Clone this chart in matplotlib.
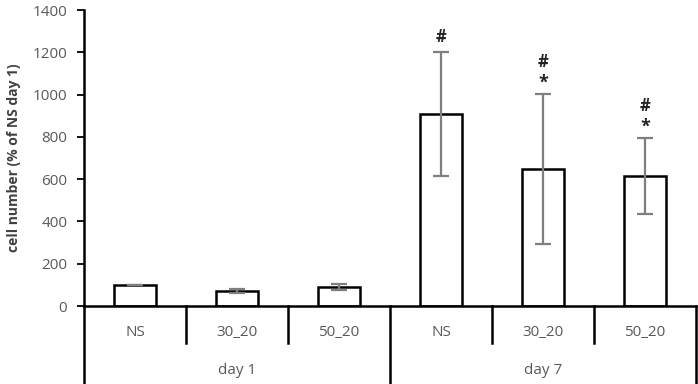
import numpy as np
import matplotlib.pyplot as plt
import matplotlib.transforms as mtransforms

plt.rcParams['font.family'] = ['Open Sans', 'DejaVu Sans']

# data
groups = ['NS', '30_20', '50_20', 'NS', '30_20', '50_20']
days = ['day 1', 'day 7']
values = [100, 71, 90, 908, 648, 615]
errors = [0, 8, 15, 293, 357, 180]
hashes = [False, False, False, True, True, True]
stars = [False, False, False, False, True, True]

fig = plt.figure(figsize=(6.98, 3.84), dpi=100)
ax = fig.add_axes([84 / 698, 78 / 384, 612 / 698, 296 / 384])

x = np.arange(len(values)) + 0.5
ax.bar(x, values, width=0.41, color='white', edgecolor='black', linewidth=1.8, zorder=2)
ax.errorbar(x, values, yerr=errors, fmt='none', ecolor='#7f7f7f', elinewidth=1.6,
            capsize=5.5, capthick=1.6, zorder=3)

# significance marks above the error bars
for xi, v, e, hs, st in zip(x, values, errors, hashes, stars):
    top = v + e
    if st:
        ax.annotate('*', (xi, top), xytext=(0, 8), textcoords='offset points',
                    ha='center', va='center', fontsize=13, fontweight='bold',
                    color='#222222')
        ax.annotate('#', (xi, top), xytext=(0, 23), textcoords='offset points',
                    ha='center', va='center', fontsize=12, fontweight='bold',
                    color='#222222')
    elif hs:
        ax.annotate('#', (xi, top), xytext=(0, 11), textcoords='offset points',
                    ha='center', va='center', fontsize=12, fontweight='bold',
                    color='#222222')

ax.set_xlim(0, 6)
ax.set_ylim(0, 1400)
ax.set_yticks(range(0, 1401, 200))
ax.set_xticks([])
ax.tick_params(axis='y', direction='out', length=5, width=1.3, colors='black',
               labelcolor='#595959', labelsize=11, pad=7)
for s in ['top', 'right']:
    ax.spines[s].set_visible(False)
ax.spines['left'].set_linewidth(1.8)
ax.spines['bottom'].set_linewidth(1.8)
ax.set_ylabel('cell number (% of NS day 1)', fontsize=10, fontweight='bold',
              color='#404040', labelpad=8)

# category table below the axis
trans = mtransforms.blended_transform_factory(ax.transData, ax.transAxes)
h = 296.0
for b in [1, 2, 4, 5]:
    ax.plot([b, b], [0, -37 / h], transform=trans, color='black', lw=1.8, clip_on=False)
for b in [0, 3, 6]:
    ax.plot([b, b], [0, -80 / h], transform=trans, color='black', lw=1.8, clip_on=False)
for xi, g in zip(x, groups):
    ax.text(xi, -26 / h, g, transform=trans, ha='center', va='center',
            fontsize=11, color='#595959')
for i, d in enumerate(days):
    ax.text(1.5 + 3 * i, -64 / h, d, transform=trans, ha='center', va='center',
            fontsize=11, color='#595959')

fig.savefig('out.png', dpi=100)
